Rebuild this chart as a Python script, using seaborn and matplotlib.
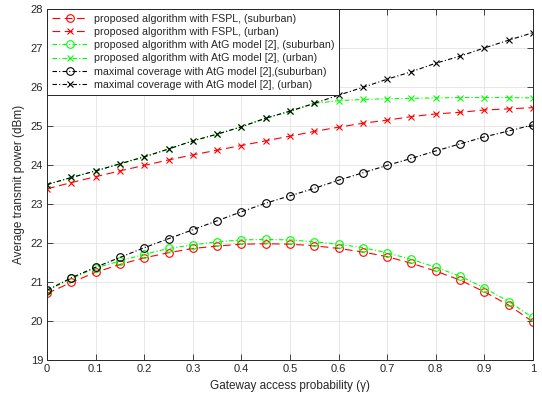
import numpy as np
import pandas as pd
import matplotlib
matplotlib.use("Agg")
import matplotlib.pyplot as plt
import seaborn as sns

gamma = [0.0, 0.05, 0.1, 0.15, 0.2, 0.25, 0.3, 0.35, 0.4, 0.45, 0.5,
         0.55, 0.6, 0.65, 0.7, 0.75, 0.8, 0.85, 0.9, 0.95, 1.0]

fspl_suburban = [20.71, 20.99, 21.25, 21.45, 21.62, 21.75, 21.86, 21.92, 21.97, 21.98, 21.97,
                 21.93, 21.86, 21.77, 21.65, 21.48, 21.28, 21.05, 20.75, 20.41, 19.98]
fspl_urban = [23.39, 23.55, 23.70, 23.85, 23.99, 24.13, 24.26, 24.38, 24.50, 24.62, 24.74,
              24.86, 24.97, 25.07, 25.15, 25.24, 25.31, 25.35, 25.41, 25.44, 25.47]
atg_suburban = [20.78, 21.09, 21.36, 21.54, 21.71, 21.86, 21.95, 22.03, 22.08, 22.09, 22.08,
                22.03, 21.97, 21.88, 21.75, 21.58, 21.38, 21.15, 20.85, 20.50, 20.09]
atg_urban = [23.50, 23.68, 23.85, 24.03, 24.21, 24.41, 24.62, 24.79, 24.98, 25.20, 25.38,
             25.58, 25.65, 25.68, 25.70, 25.71, 25.72, 25.73, 25.73, 25.73, 25.72]
maxcov_suburban = [20.79, 21.11, 21.38, 21.63, 21.88, 22.11, 22.34, 22.57, 22.80, 23.02, 23.21,
                   23.40, 23.61, 23.80, 23.99, 24.17, 24.36, 24.54, 24.72, 24.87, 25.03]
maxcov_urban = [23.50, 23.68, 23.85, 24.03, 24.21, 24.41, 24.62, 24.79, 24.98, 25.20, 25.38,
                25.58, 25.79, 25.99, 26.20, 26.39, 26.61, 26.79, 27.00, 27.20, 27.39]

labels = ["proposed algorithm with FSPL, (suburban)",
          "proposed algorithm with FSPL, (urban)",
          "proposed algorithm with AtG model [2], (suburban)",
          "proposed algorithm with AtG model [2], (urban)",
          "maximal coverage with AtG model [2],(suburban)",
          "maximal coverage with AtG model [2], (urban)"]
series = [fspl_suburban, fspl_urban, atg_suburban, atg_urban, maxcov_suburban, maxcov_urban]
colors = ["#ff0000", "#ff0000", "#00ff00", "#00ff00", "#000000", "#000000"]
markers = ["o", "x", "o", "x", "o", "x"]
dashes = [(7, 4), (7, 4), (4, 2, 1, 2), (4, 2, 1, 2), (4, 2, 1, 2), (4, 2, 1, 2)]

sns.set_style("white")
plt.rcParams["font.family"] = ["Liberation Sans", "DejaVu Sans"]

fig = plt.figure(figsize=(5.42, 4.0), dpi=100)
ax = fig.add_axes([0.087, 0.1, 0.896, 0.8775])

for lab, vals, c, m, d in zip(labels, series, colors, markers, dashes):
    df = pd.DataFrame({"x": gamma, "y": vals})
    sns.lineplot(data=df, x="x", y="y", ax=ax, color=c, linewidth=0.8,
                 marker=m, markersize=5.5 if m == "o" else 5,
                 markerfacecolor="none", markeredgecolor=c, markeredgewidth=0.8,
                 label=lab)
    ax.lines[-1].set_dashes(d)

ax.set_xlim(0, 1)
ax.set_ylim(19, 28)
ax.set_xticks(np.arange(0, 1.01, 0.1))
ax.set_xticklabels(["0", "0.1", "0.2", "0.3", "0.4", "0.5", "0.6", "0.7", "0.8", "0.9", "1"])
ax.set_yticks(range(19, 29))
ax.grid(True, color="#e3e3e3", linewidth=0.6)
ax.tick_params(direction="in", length=4, width=0.6, labelsize=8, top=True, right=True,
               bottom=True, left=True, colors="#262626", pad=3)
for s in ax.spines.values():
    s.set_color("#262626")
    s.set_linewidth(0.7)
ax.set_xlabel("Gateway access probability (γ)", fontsize=8.5, labelpad=4)
ax.set_ylabel("Average transmit power (dBm)", fontsize=8.5, labelpad=4)

leg = ax.legend(loc="upper left", fontsize=7.7, frameon=True, fancybox=False,
                edgecolor="#262626", framealpha=1, borderaxespad=0, handlelength=3.4,
                handletextpad=0.5, labelspacing=0.3, borderpad=0.45)
leg.get_frame().set_linewidth(0.7)

fig.savefig("out.png", dpi=100)
